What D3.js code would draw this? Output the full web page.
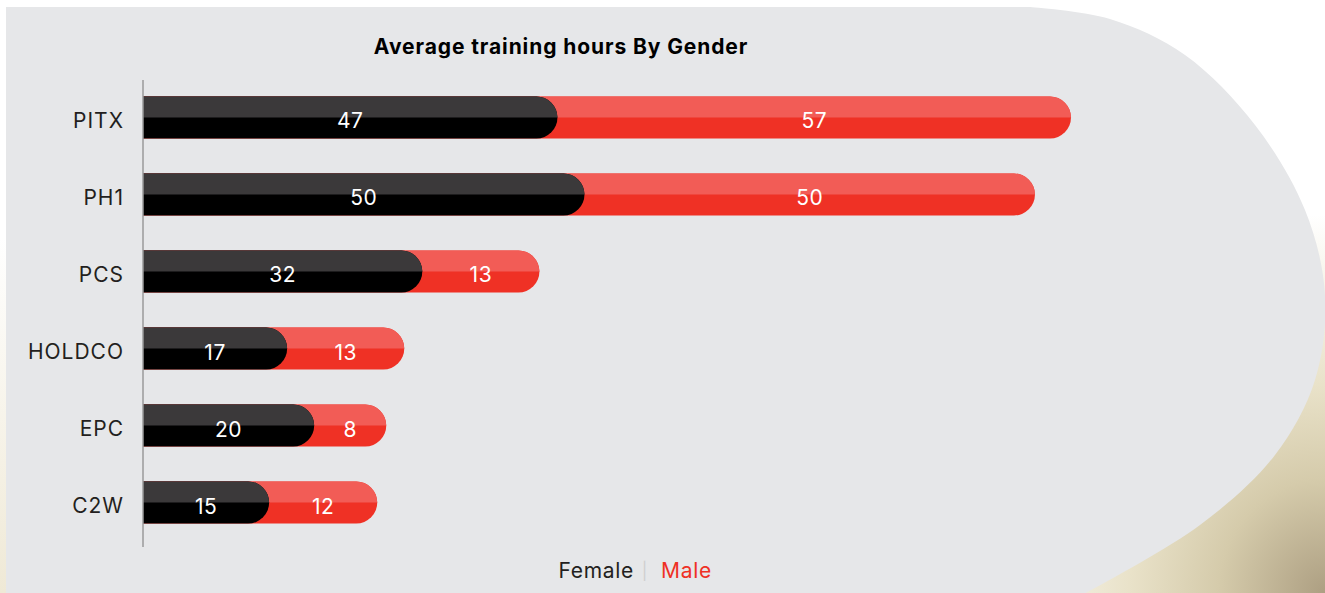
<!DOCTYPE html>
<html>
<head>
<meta charset="utf-8">
<script src="https://cdn.jsdelivr.net/npm/d3@7"></script>
<style>
  body { margin: 0; background: #fff; }
  svg { display: block; font-family: Inter, "Open Sans", sans-serif; }
</style>
</head>
<body>
<script>
// data
const categories = ["PITX", "PH1", "PCS", "HOLDCO", "EPC", "C2W"];
const female = [47, 50, 32, 17, 20, 15];
const male = [57, 50, 13, 13, 8, 12];
const seriesNames = ["Female", "Male"];
const title = "Average training hours By Gender";

const width = 1325, height = 593;

const svg = d3.select("body")
  .append("svg")
  .attr("width", width)
  .attr("height", height);

const defs = svg.append("defs");

// beige backdrop in the corner
const rg = defs.append("radialGradient")
  .attr("id", "sand")
  .attr("cx", 1.0).attr("cy", 1.0).attr("r", 0.8);
rg.append("stop").attr("offset", 0).attr("stop-color", "#ad9f82");
rg.append("stop").attr("offset", 0.3).attr("stop-color", "#d5cbab");
rg.append("stop").attr("offset", 0.55).attr("stop-color", "#e9e2c9");
rg.append("stop").attr("offset", 1).attr("stop-color", "#ffffff");

const lg = defs.append("linearGradient")
  .attr("id", "leftsand")
  .attr("x1", 0).attr("y1", 0).attr("x2", 0).attr("y2", 1);
lg.append("stop").attr("offset", 0.4).attr("stop-color", "#ffffff");
lg.append("stop").attr("offset", 1).attr("stop-color", "#efe9d6");

svg.append("rect")
  .attr("width", width)
  .attr("height", height)
  .attr("fill", "#fff");

svg.append("rect")
  .attr("width", 8)
  .attr("height", height)
  .attr("fill", "url(#leftsand)");

svg.append("rect")
  .attr("x", 880).attr("y", 120)
  .attr("width", 445).attr("height", 473)
  .attr("fill", "url(#sand)");

// grey panel with the round right side
const edge = [[1030, 7], [1110, 19], [1185, 55], [1255, 125], [1305, 210], [1325, 295],
  [1315, 380], [1275, 455], [1200, 525], [1080, 596]];
const edgePath = d3.line().curve(d3.curveCatmullRom)(edge);
svg.append("path")
  .attr("d", "M6,7 L" + edgePath.slice(1) + " L1080,600 L6,600 Z")
  .attr("fill", "#e6e7e9");

// scales
const x = d3.scaleLinear().domain([1, 105]).range([143, 1080]).clamp(true);
const y = d3.scaleBand().domain(categories).range([79, 541])
  .paddingInner(0.4545).paddingOuter(0.227);

const rows = categories.map((c, i) => ({cat: c, Female: female[i], Male: male[i]}));
const stacked = d3.stack().keys(seriesNames)(rows);

const colors = {
  Female: {top: "#3b393a", bottom: "#000000"},
  Male: {top: "#f25c56", bottom: "#ef3125"}
};

function capsule(x0, x1, y0, h) {
  const r = h / 2;
  return `M${x0},${y0}H${x1 - r}A${r},${r} 0 0 1 ${x1 - r},${y0 + h}H${x0}Z`;
}
function capsuleTop(x0, x1, y0, h) {
  const r = h / 2;
  return `M${x0},${y0}H${x1 - r}A${r},${r} 0 0 1 ${x1},${y0 + r}H${x0}Z`;
}

const h = y.bandwidth();

// draw male first so the female cap sits on top
stacked.slice().reverse().forEach(layer => {
  const g = svg.append("g").attr("class", "series-" + layer.key);
  g.selectAll("path.bottom")
    .data(layer)
    .join("path")
    .attr("class", "bottom")
    .attr("d", d => capsule(x(0), x(d[1]), y(d.data.cat), h))
    .attr("fill", colors[layer.key].bottom);
  g.selectAll("path.top")
    .data(layer)
    .join("path")
    .attr("class", "top")
    .attr("d", d => capsuleTop(x(0), x(d[1]), y(d.data.cat), h))
    .attr("fill", colors[layer.key].top);
});

// value labels
stacked.forEach(layer => {
  svg.append("g")
    .selectAll("text")
    .data(layer)
    .join("text")
    .attr("x", d => (x(d[0]) + x(d[1])) / 2)
    .attr("y", d => y(d.data.cat) + h / 2 + 11)
    .attr("text-anchor", "middle")
    .attr("fill", "#fff")
    .attr("font-size", 21)
    .attr("letter-spacing", 0.5)
    .text(d => d[1] - d[0]);
});

// axis
const yAxis = svg.append("g")
  .attr("transform", `translate(${x(0)},0)`)
  .call(d3.axisLeft(y).tickSize(0).tickPadding(19));
yAxis.select(".domain")
  .attr("d", "M0,80V547")
  .attr("stroke", "#9a9a9a")
  .attr("stroke-width", 1.5);
yAxis.selectAll("text")
  .attr("font-size", 21)
  .attr("font-family", "Inter, sans-serif")
  .attr("letter-spacing", 1)
  .attr("fill", "#231f20")
  .attr("dy", "0.52em");

// title
svg.append("text")
  .attr("x", 561)
  .attr("y", 54)
  .attr("text-anchor", "middle")
  .attr("font-size", 21)
  .attr("font-weight", "bold")
  .attr("letter-spacing", 0.9)
  .attr("fill", "#000")
  .text(title);

// legend
const legend = svg.append("g").attr("font-size", 21).attr("letter-spacing", 0.7);
legend.append("text")
  .attr("x", 634).attr("y", 578)
  .attr("text-anchor", "end")
  .attr("fill", "#231f20")
  .text(seriesNames[0]);
legend.append("text")
  .attr("x", 645).attr("y", 577)
  .attr("text-anchor", "middle")
  .attr("fill", "#cfcfcf")
  .attr("font-size", 17)
  .text("|");
legend.append("text")
  .attr("x", 661).attr("y", 578)
  .attr("fill", "#ef3125")
  .text(seriesNames[1]);
</script>
</body>
</html>
